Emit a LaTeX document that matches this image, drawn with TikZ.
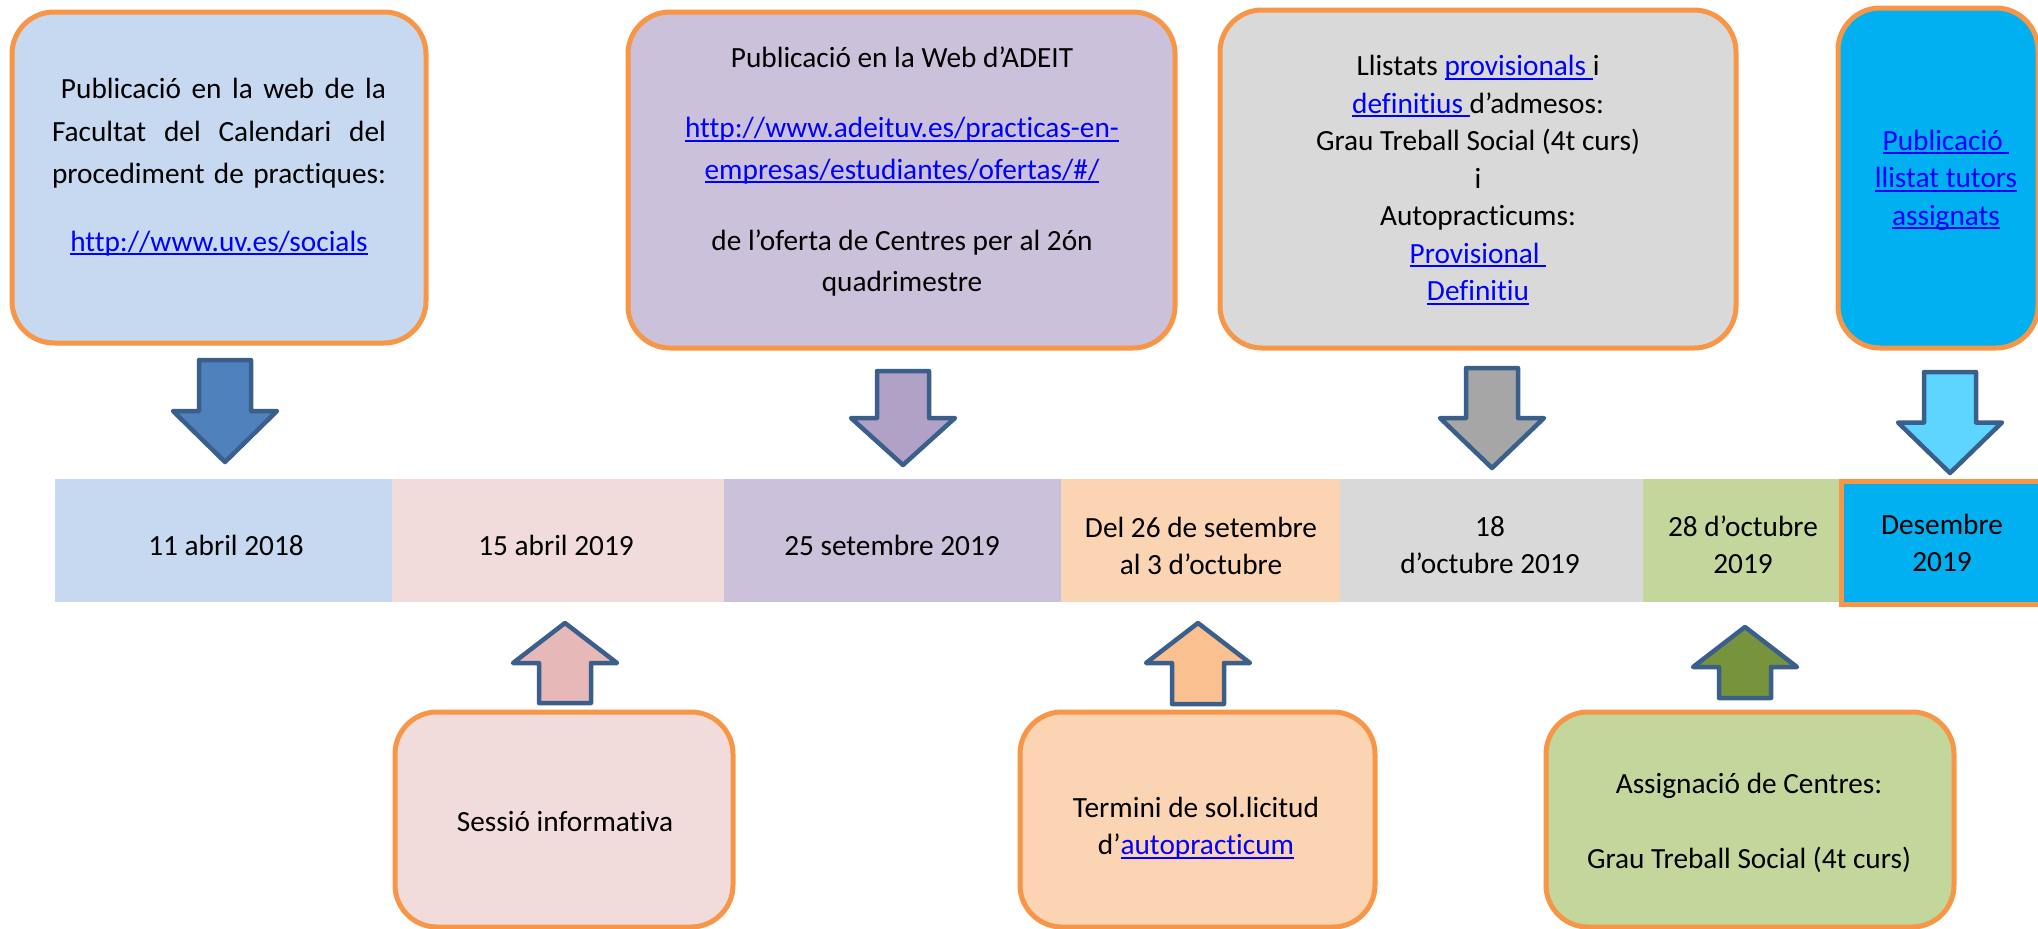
\documentclass[tikz,border=0pt]{standalone}
\usepackage{fontspec}
\setmainfont{Carlito}[Ligatures=NoCommon]

\definecolor{boxorange}{HTML}{F79646}
\definecolor{arrowedge}{HTML}{3A5F8B}
\definecolor{linkblue}{HTML}{0000FF}
\definecolor{lightblue}{HTML}{C6D9F1}
\definecolor{lilac}{HTML}{CCC1DA}
\definecolor{lightgray}{HTML}{D9D9D9}
\definecolor{cyanbox}{HTML}{00B0F0}
\definecolor{pinkbox}{HTML}{F2DCDB}
\definecolor{peachbox}{HTML}{FBD4B4}
\definecolor{greenbox}{HTML}{C3D69B}
\definecolor{arrowblue}{HTML}{4F81BD}
\definecolor{arrowlilac}{HTML}{B2A1C7}
\definecolor{arrowgray}{HTML}{A6A6A6}
\definecolor{arrowcyan}{HTML}{5DD5FF}
\definecolor{uppink}{HTML}{E6B9B8}
\definecolor{uppeach}{HTML}{FAC090}
\definecolor{upgreen}{HTML}{77933C}

\newcommand{\lnk}[1]{\textcolor{linkblue}{\setbox0\hbox{#1}\rlap{\rule[-4pt]{\wd0}{2pt}}\box0}}

\begin{document}
\begin{tikzpicture}[x=1pt,y=-1pt,
    every node/.style={font=\fontsize{29.3}{37.5}\selectfont},
    infobox/.style={draw=boxorange, line width=5pt, rounded corners=42pt, inner sep=0pt},
    boxtext/.style={align=center, inner sep=0pt},
    blockarrow/.style={draw=arrowedge, line width=4.5pt, line join=round}]
    \useasboundingbox (0,0) rectangle (2038,929);
    \clip (0,0) rectangle (2038,929);

    % Timeline
    \foreach \xa/\xb/\col in {55/392/lightblue, 392/724/pinkbox, 724/1061/lilac,
        1061/1340/peachbox, 1340/1643/lightgray, 1643/1839/greenbox}
        \fill[\col] (\xa,479) rectangle (\xb,602);
    \draw[fill=cyanbox, draw=boxorange, line width=5pt] (1841.5,481.5) rectangle (2060,604.5);
    \node (d1) at (226,545) {11 abril 2018};
    \node (d2) at (556,545) {15 abril 2019};
    \node (d3) at (892,545) {25 setembre 2019};
    \node[boxtext] (d4) at (1201,546) {Del 26 de setembre\\al 3 d’octubre};
    \node[boxtext] (d5) at (1490,545) {18\\d’octubre 2019};
    \node[boxtext] (d6) at (1743,545) {28 d’octubre\\2019};
    \node[boxtext] (d7) at (1942,543) {Desembre\\2019};

    % Upper boxes
    \node[infobox, fill=lightblue, minimum width=414pt, minimum height=331pt] (web) at (219,177.5) {};
    \node[infobox, fill=lilac, minimum width=547pt, minimum height=336pt] (adeit) at (901.5,180) {};
    \node[infobox, fill=lightgray, minimum width=516pt, minimum height=338pt] (llistats) at (1478,179) {};
    \node[infobox, fill=cyanbox, minimum width=200pt, minimum height=340pt] (tutors) at (1938,178) {};

    \node[boxtext, font=\fontsize{29.3}{42.5}\selectfont] (webtxt) at (219,167) {%
        \makebox[334pt][s]{\hspace*{9pt}Publicació en la web de la}\\
        \makebox[334pt][s]{Facultat del Calendari del}\\
        \makebox[334pt][s]{procediment de practiques:}\\[25pt]
        \lnk{http://www.uv.es/socials}};
    \node[boxtext, font=\fontsize{29.3}{41.5}\selectfont] (adeittxt) at (902,172) {%
        Publicació en la Web d’ADEIT\\[28.5pt]
        \lnk{http://www.adeituv.es/practicas-en-}\\
        \lnk{empresas/estudiantes/ofertas/\#/}\\[29.5pt]
        de l’oferta de Centres per al 2ón\\
        quadrimestre};
    \node[boxtext] (llistatstxt) at (1478,180) {%
        Llistats \lnk{provisionals }i\\
        \lnk{definitius }d’admesos:\\
        Grau Treball Social (4t curs)\\
        i\\
        Autopracticums:\\
        \lnk{Provisional }\\
        \lnk{Definitiu}};
    \node[boxtext] (tutorstxt) at (1946,180) {%
        \lnk{Publicació }\\
        \lnk{llistat tutors}\\
        \lnk{assignats}};

    % Down arrows
    \foreach \cx/\ya/\yt/\col in {225/360/462/arrowblue, 903/371/465/arrowlilac,
        1492/368/468/arrowgray, 1950/372/473/arrowcyan}
        \draw[blockarrow, fill=\col] (\cx-26,\ya) -- (\cx+26,\ya) -- (\cx+26,{(\ya+\yt)/2})
            -- (\cx+52,{(\ya+\yt)/2}) -- (\cx,\yt) -- (\cx-52,{(\ya+\yt)/2})
            -- (\cx-26,{(\ya+\yt)/2}) -- cycle;

    % Up arrows
    \foreach \cx/\yt/\yb/\col in {565/623/703/uppink, 1198/623/704/uppeach, 1745/627/698/upgreen}
        \draw[blockarrow, fill=\col] (\cx,\yt) -- (\cx+52,{\yt+40}) -- (\cx+26,{\yt+40})
            -- (\cx+26,\yb) -- (\cx-26,\yb) -- (\cx-26,{\yt+40}) -- (\cx-52,{\yt+40}) -- cycle;

    % Lower boxes
    \node[infobox, fill=pinkbox, minimum width=338pt, minimum height=215pt] (sessio) at (564,819.5) {};
    \node[infobox, fill=peachbox, minimum width=355pt, minimum height=215pt] (termini) at (1197.5,819.5) {};
    \node[infobox, fill=greenbox, minimum width=408pt, minimum height=215pt] (assig) at (1750,819.5) {};
    \node (sessiotxt) at (565,822) {Sessió informativa};
    \node[boxtext] (terminitxt) at (1196,828) {Termini de sol.licitud\\d’\lnk{autopracticum}};
    \node[boxtext] (assigtxt) at (1749,823) {Assignació de Centres:\\[38pt]Grau Treball Social (4t curs)};
\end{tikzpicture}
\end{document}
